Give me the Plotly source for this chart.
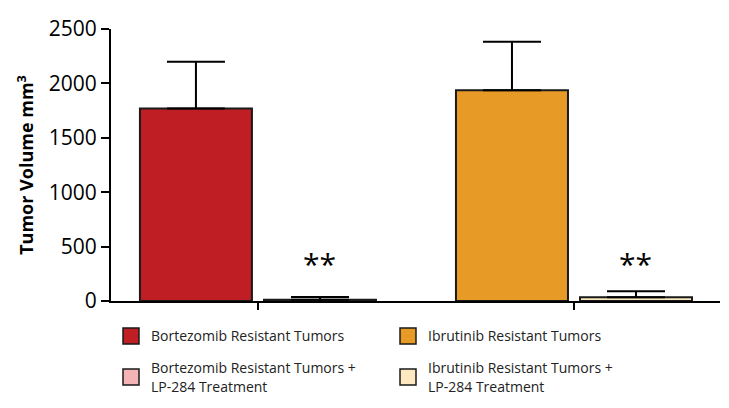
import plotly.graph_objects as go

categories = ["Bortezomib", "Ibrutinib"]
series_names = [
    "Bortezomib Resistant Tumors",
    "Ibrutinib Resistant Tumors",
    "Bortezomib Resistant Tumors +<br>LP-284 Treatment",
    "Ibrutinib Resistant Tumors +<br>LP-284 Treatment",
]
series_category = ["Bortezomib", "Ibrutinib", "Bortezomib", "Ibrutinib"]
series_group = ["untreated", "untreated", "treated", "treated"]
series_values = [1770, 1938, 12, 35]
series_errors = [430, 445, 25, 55]
series_colors = ["#BE1E24", "#E89A26", "#F4B3B4", "#FDE8BF"]
legend_rows = ["legend", "legend", "legend2", "legend2"]
significance = ["**", "**"]
y_ticks = [0, 500, 1000, 1500, 2000, 2500]

FONT = "Open Sans"

fig = go.Figure()
for name, cat, grp, val, err, col in zip(series_names, series_category, series_group,
                                         series_values, series_errors, series_colors):
    fig.add_trace(go.Bar(
        x=[cat], y=[val], name=name, offsetgroup=grp, showlegend=False,
        marker=dict(color=col, line=dict(color="#1a1a1a", width=2)),
        error_y=dict(type="data", array=[err], arrayminus=[0], symmetric=False,
                     color="black", thickness=2, width=29),
    ))

# legend entries (square swatches)
for name, col, lg in zip(series_names, series_colors, legend_rows):
    fig.add_trace(go.Scatter(
        x=[None], y=[None], mode="markers", name=name, legend=lg,
        marker=dict(symbol="square", size=16, color=col,
                    line=dict(color="#1a1a1a", width=1.5)),
    ))

# significance stars above treated bars
for cat, star in zip(categories, significance):
    fig.add_annotation(x=cat, y=140, text=star, showarrow=False, xshift=62,
                       yanchor="bottom", font=dict(family=FONT, size=30, color="black"))

legend_common = dict(orientation="h", x=0, xanchor="left", yanchor="top",
                     entrywidth=232, entrywidthmode="pixels", itemsizing="trace",
                     font=dict(family=FONT, size=14, color="#222222"),
                     traceorder="normal", bgcolor="rgba(0,0,0,0)")

fig.update_layout(
    width=729, height=408,
    margin=dict(l=111, r=9, t=29, b=107, autoexpand=False),
    plot_bgcolor="white", paper_bgcolor="white",
    barmode="group", bargap=0.215, bargroupgap=0.097,
    font=dict(family=FONT, color="black"),
    showlegend=True,
    legend=dict(y=-0.071, **legend_common),
    legend2=dict(y=-0.189, **legend_common),
    xaxis=dict(type="category", categoryorder="array", categoryarray=categories,
               range=[-0.465, 1.462], showticklabels=False,
               ticks="outside", ticklen=7, tickwidth=1.5, tickcolor="black",
               showline=True, linecolor="black", linewidth=2, showgrid=False,
               zeroline=False),
    yaxis=dict(range=[0, 2500], tickvals=y_ticks, ticks="outside", ticklen=8,
               tickwidth=1.5, tickcolor="black", showline=True, linecolor="black",
               linewidth=2, showgrid=False, zeroline=False,
               tickfont=dict(family=FONT, size=21, color="black"),
               title=dict(text="<b>Tumor Volume mm<sup>3</sup></b>",
                          font=dict(family=FONT, size=18, color="black"), standoff=10)),
)

fig.write_html("out.html")
